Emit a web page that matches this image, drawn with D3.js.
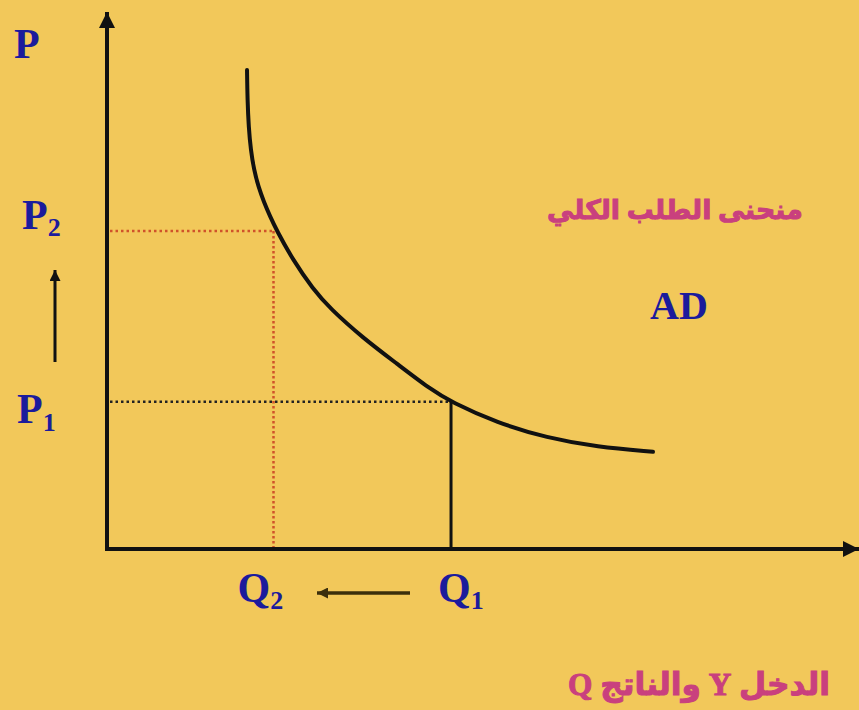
<!DOCTYPE html>
<html>
<head>
<meta charset="utf-8">
<script src="https://cdn.jsdelivr.net/npm/d3@7"></script>
<style>
  body { margin: 0; background: #f2c85a; }
  svg { display: block; }
</style>
</head>
<body>
<div id="chart"></div>
<script>
// aggregate demand curve (Q on x, P on y, 0..10 units)
const qCurve = [1.867, 1.873, 1.889, 1.917, 1.96, 2.02, 2.093, 2.173, 2.26, 2.48, 2.747, 2.973, 3.413, 3.867, 4.307, 4.587, 5.20, 5.867, 6.533, 7.28];
const pCurve = [8.92, 8.36, 7.86, 7.43, 7.06, 6.74, 6.46, 6.20, 5.94, 5.38, 4.84, 4.48, 3.93, 3.45, 2.98, 2.74, 2.35, 2.07, 1.90, 1.81];

// the two marked points
const qMarks = [2.22, 4.587];         // Q2, Q1
const pMarks = [5.92, 2.74];          // P2, P1
const markNames = ["2", "1"];

const curveTitle = "منحنى الطلب الكلي";
const curveName = "AD";
const xTitle = "الدخل Y والناتج Q";
const yTitle = "P";

const width = 859, height = 710;
const blue = "#1b1b9c", pink = "#c9407e";
const serif = "'Liberation Serif', 'Times New Roman', serif";
const arabic = "'Liberation Serif', 'DejaVu Sans', sans-serif";

const x = d3.scaleLinear().domain([0, 10]).range([107, 857]);
const y = d3.scaleLinear().domain([0, 10]).range([549, 12]);

const svg = d3.select("#chart").append("svg")
    .attr("width", width)
    .attr("height", height);

svg.append("rect")
    .attr("width", width)
    .attr("height", height)
    .attr("fill", "#f2c85a");

const defs = svg.append("defs");
function marker(id, w, h, color) {
    defs.append("marker")
        .attr("id", id)
        .attr("markerUnits", "userSpaceOnUse")
        .attr("viewBox", "0 0 10 10")
        .attr("refX", 10).attr("refY", 5)
        .attr("markerWidth", w).attr("markerHeight", h)
        .attr("orient", "auto")
      .append("path")
        .attr("d", "M0,0L10,5L0,10z")
        .attr("fill", color);
}
marker("axisHead", 18, 16, "#111");
marker("smallHead", 14, 11, "#111");
marker("brownHead", 14, 11, "#3b2f0c");

// guide lines
const g = svg.append("g");
g.append("line")
    .attr("x1", x(0) + 3).attr("x2", x(qMarks[0]))
    .attr("y1", y(pMarks[0])).attr("y2", y(pMarks[0]))
    .attr("stroke", "#d0522a").attr("stroke-width", 2.5)
    .attr("stroke-dasharray", "2.5,3");
g.append("line")
    .attr("x1", x(qMarks[0])).attr("x2", x(qMarks[0]))
    .attr("y1", y(pMarks[0])).attr("y2", y(0))
    .attr("stroke", "#d0522a").attr("stroke-width", 2.5)
    .attr("stroke-dasharray", "2.5,2.5");
g.append("line")
    .attr("x1", x(0) + 3).attr("x2", x(qMarks[1]))
    .attr("y1", y(pMarks[1])).attr("y2", y(pMarks[1]))
    .attr("stroke", "#222").attr("stroke-width", 2.5)
    .attr("stroke-dasharray", "2.5,3");
g.append("line")
    .attr("x1", x(qMarks[1])).attr("x2", x(qMarks[1]))
    .attr("y1", y(pMarks[1])).attr("y2", y(0))
    .attr("stroke", "#111").attr("stroke-width", 3);

// axes with arrow heads
g.append("line")
    .attr("x1", x(0)).attr("x2", x(0))
    .attr("y1", y(0) + 2).attr("y2", y(10))
    .attr("stroke", "#111").attr("stroke-width", 4)
    .attr("marker-end", "url(#axisHead)");
g.append("line")
    .attr("x1", x(0) - 2).attr("x2", x(10) + 2)
    .attr("y1", y(0)).attr("y2", y(0))
    .attr("stroke", "#111").attr("stroke-width", 4)
    .attr("marker-end", "url(#axisHead)");

// the curve (basis spline to smooth out reading error)
const line = d3.line()
    .x(d => x(d[0]))
    .y(d => y(d[1]))
    .curve(d3.curveBasis);
g.append("path")
    .datum(d3.zip(qCurve, pCurve))
    .attr("d", line)
    .attr("fill", "none")
    .attr("stroke", "#111")
    .attr("stroke-width", 4)
    .attr("stroke-linecap", "round");

// labels
function subLabel(tx, ty, main, sub, dy) {
    const t = svg.append("text")
        .attr("x", tx).attr("y", ty)
        .attr("fill", blue)
        .attr("font-family", serif)
        .attr("font-weight", "bold")
        .attr("font-size", 42)
        .text(main);
    if (sub) t.append("tspan").attr("dy", dy).attr("font-size", 26).text(sub);
}
subLabel(14, 58, yTitle);
subLabel(22, y(pMarks[0]) - 2, "P", markNames[0], 7);
subLabel(17, y(pMarks[1]) + 21, "P", markNames[1], 8);
subLabel(x(qMarks[0]) - 36, 602, "Q", markNames[0], 7);
subLabel(x(qMarks[1]) - 13, 602, "Q", markNames[1], 7);

svg.append("text")
    .attr("x", 650).attr("y", 319)
    .attr("fill", blue)
    .attr("font-family", serif)
    .attr("font-weight", "bold")
    .attr("font-size", 40)
    .text(curveName);

// shift arrows
svg.append("line")
    .attr("x1", 55).attr("x2", 55)
    .attr("y1", 362).attr("y2", 270)
    .attr("stroke", "#111").attr("stroke-width", 3)
    .attr("marker-end", "url(#smallHead)");
svg.append("line")
    .attr("x1", 410).attr("x2", 317)
    .attr("y1", 593).attr("y2", 593)
    .attr("stroke", "#3b2f0c").attr("stroke-width", 3.5)
    .attr("marker-end", "url(#brownHead)");

// arabic titles, sized to the width they take in the picture
function arabicText(cx, by, str, w) {
    const t = svg.append("text")
        .attr("x", cx).attr("y", by)
        .attr("direction", "rtl")
        .attr("text-anchor", "middle")
        .attr("fill", pink)
        .attr("stroke", pink)
        .attr("stroke-width", 1)
        .attr("font-family", arabic)
        .attr("font-weight", "bold")
        .attr("font-size", 30)
        .text(str);
    const len = t.node().getComputedTextLength();
    t.attr("font-size", 30 * w / len);
}
arabicText(675, 219, curveTitle, 256);
arabicText(699, 695, xTitle, 262);
</script>
</body>
</html>
